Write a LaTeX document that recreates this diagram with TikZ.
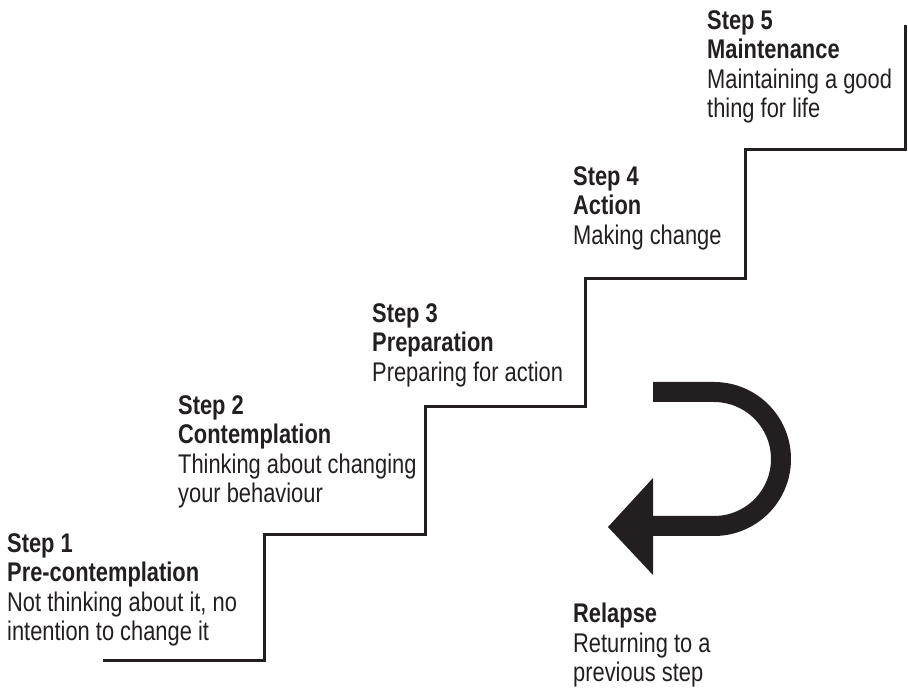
\documentclass[tikz,border=0pt]{standalone}
\usepackage{fontspec}
\setmainfont{Liberation Sans}[FakeStretch=0.81]
\usepackage{xcolor}
\usetikzlibrary{positioning}
\definecolor{ink}{HTML}{231F20}

\tikzset{
  stepnote/.style={anchor=north west, inner sep=0pt, align=left, text=ink,
    font=\fontsize{27}{29.5}\selectfont},
  stairline/.style={draw=ink, line width=3pt, line join=miter},
}

\begin{document}
\begin{tikzpicture}[x=1pt, y=1pt]
  \useasboundingbox (0,0) rectangle (908,688);

  % corners of the stairs
  \coordinate (foot) at (103,27);
  \coordinate (r1) at (264,27);
  \coordinate (r2) at (425,153);
  \coordinate (r3) at (585,281);
  \coordinate (r4) at (745,409);
  \coordinate (r5) at (905,538);
  \coordinate (top) at (905,663);

  \draw[stairline] (foot) -- (r1) |- (r2) |- (r3) |- (r4) |- (r5) -- (top);

  % relapse arrow
  \coordinate (tailstart) at (653,296);
  \coordinate (headbase) at (653,162);
  \draw[draw=ink, line width=20pt] (tailstart) -- (714,296)
    arc[start angle=90, end angle=-90, radius=67] -- (headbase);
  \fill[ink] (653,210) -- (608,161) -- (653,113) -- cycle;

  % labels
  \node[stepnote] (s1) at (7,155)
    {\textbf{Step 1}\\\textbf{Pre-contemplation}\\Not thinking about it, no\\intention to change it};
  \node[stepnote] (s2) at (178,293)
    {\textbf{Step 2}\\\textbf{Contemplation}\\Thinking about changing\\your behaviour};
  \node[stepnote] (s3) at (372,385)
    {\textbf{Step 3}\\\textbf{Preparation}\\Preparing for action};
  \node[stepnote] (s4) at (573,522)
    {\textbf{Step 4}\\\textbf{Action}\\Making change};
  \node[stepnote] (s5) at (707,678)
    {\textbf{Step 5}\\\textbf{Maintenance}\\Maintaining a good\\thing for life};
  \node[stepnote] (relapse) at (573,85)
    {\textbf{Relapse}\\Returning to a\\previous step};
\end{tikzpicture}
\end{document}
